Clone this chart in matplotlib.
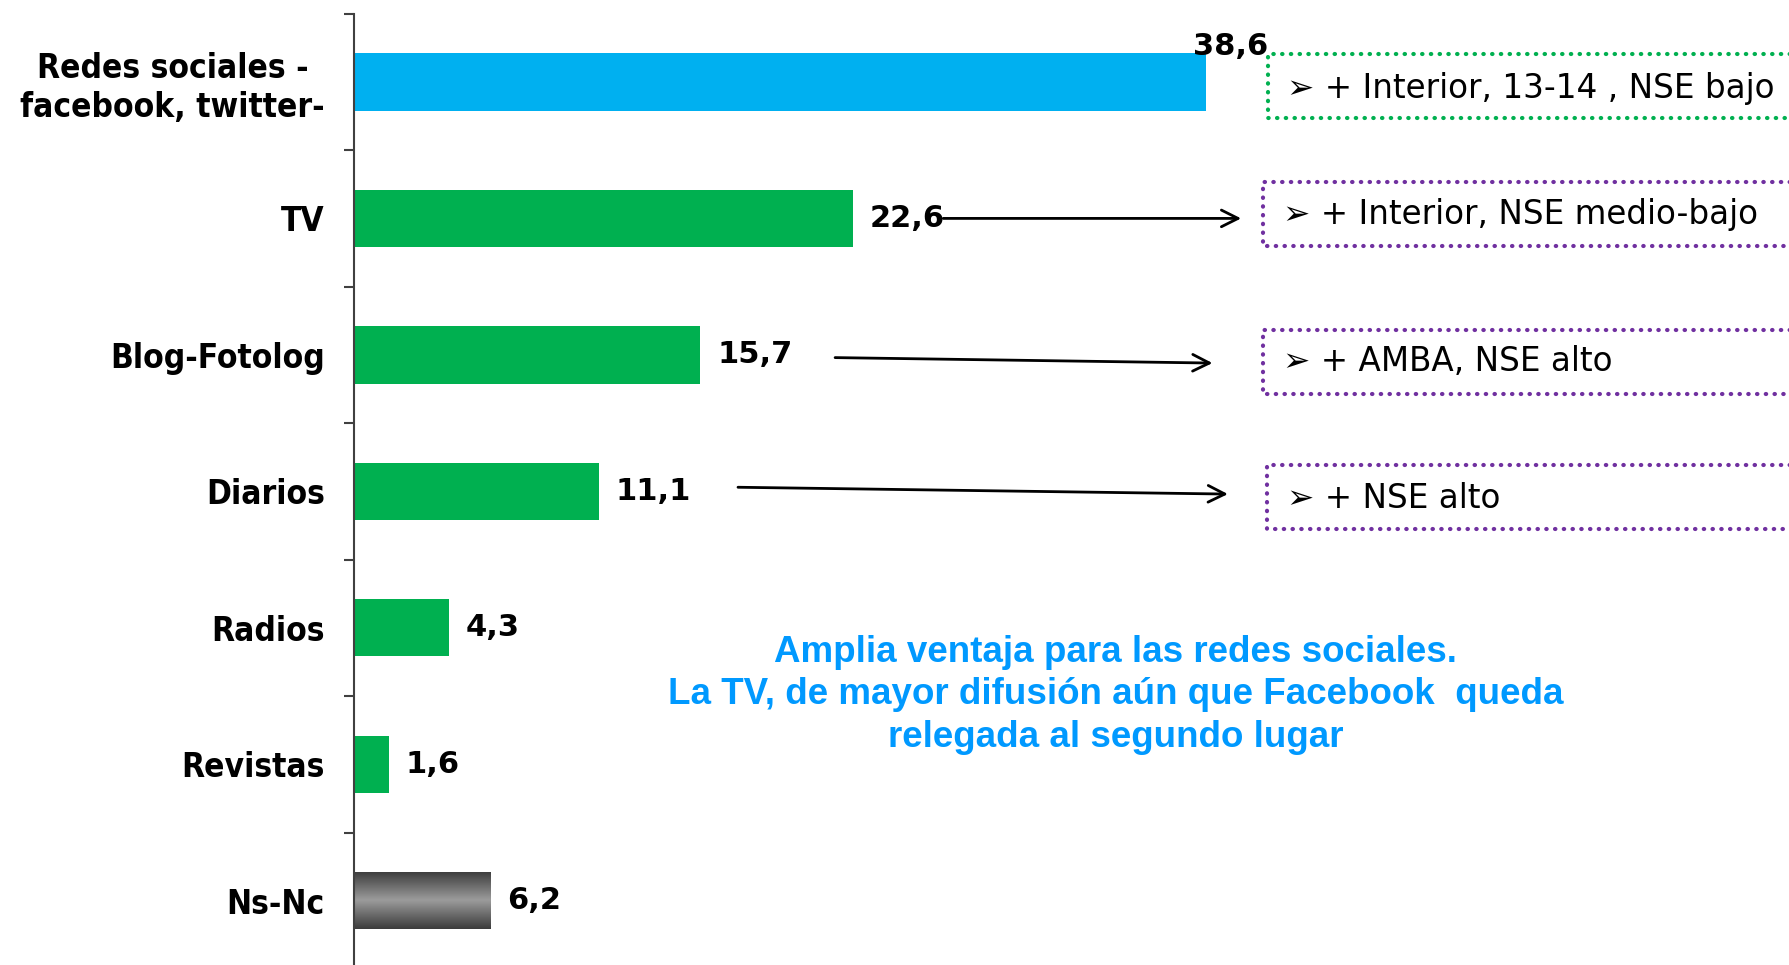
import numpy as np
import matplotlib
matplotlib.use('Agg')
import matplotlib.pyplot as plt

# data
categories = ['Redes sociales -\nfacebook, twitter-', 'TV', 'Blog-Fotolog', 'Diarios',
              'Radios', 'Revistas', 'Ns-Nc']
values = [38.6, 22.6, 15.7, 11.1, 4.3, 1.6, 6.2]
value_labels = ['38,6', '22,6', '15,7', '11,1', '4,3', '1,6', '6,2']
box_texts = ['\u27a2 + Interior, 13-14 , NSE bajo',
             '\u27a2 + Interior, NSE medio-bajo',
             '\u27a2 + AMBA, NSE alto',
             '\u27a2 + NSE alto']
note = ('Amplia ventaja para las redes sociales.\n'
        'La TV, de mayor difusión aún que Facebook  queda\n'
        'relegada al segundo lugar')

BLUE = '#00B0F0'
GREEN = '#00B050'
PURPLE = '#7030A0'
colors = [BLUE, GREEN, GREEN, GREEN, GREEN, GREEN, 'none']

fig = plt.figure(figsize=(17.9, 9.65), dpi=100)
ax = fig.add_axes([354 / 1790, 1 - 969 / 965, 1 - 354 / 1790, (969 - 13.7) / 965])

y = np.arange(len(categories))
bars = ax.barh(y, values, height=0.42, color=colors, zorder=2)

# gray gradient for Ns-Nc
gb = bars[-1]
grad = np.abs(np.linspace(-1, 1, 64))[:, None]
im = ax.imshow(grad, cmap=matplotlib.colors.LinearSegmentedColormap.from_list(
    'g', ['#9a9a9a', '#3c3c3c']), aspect='auto', zorder=2,
    extent=(0, values[-1], y[-1] + 0.21, y[-1] - 0.21))
im.set_clip_path(gb)
ax.set_xlim(0, 65.07)
ax.set_ylim(6.5, -0.5)

for s in ['top', 'right', 'bottom']:
    ax.spines[s].set_visible(False)
ax.spines['left'].set_color('#404040')
ax.spines['left'].set_linewidth(1.5)
ax.set_xticks([])
ax.set_yticks(y)
ax.set_yticklabels(categories, fontsize=24, fontweight='bold',
                   family='DejaVu Sans', fontstretch='condensed',
                   linespacing=1.2, multialignment='center')
ax.tick_params(axis='y', which='major', length=0, pad=21)
ax.set_yticks(np.arange(-0.5, 7, 1), minor=True)
ax.tick_params(axis='y', which='minor', length=7, width=1.5, color='#404040')

# value labels
for i, (v, t) in enumerate(zip(values, value_labels)):
    if i == 0:
        ax.text(v - 0.6, i - 0.26, t, fontsize=22, fontweight='bold',
                ha='left', va='center')
    else:
        ax.text(v + 0.75, i, t, fontsize=22, fontweight='bold',
                ha='left', va='center')

# arrows
arrows = [((26.7, 1.0), (40.2, 1.0)),
          ((21.8, 2.02), (38.9, 2.06)),
          ((17.4, 2.97), (39.6, 3.02))]
for (x0, y0), (x1, y1) in arrows:
    ax.annotate('', xy=(x1, y1), xytext=(x0, y0),
                arrowprops=dict(arrowstyle='->', lw=2, color='black',
                                mutation_scale=30, shrinkA=0, shrinkB=0))

# dotted boxes
boxes = [(41.4, -0.204, 0.264, GREEN), (41.2, 0.732, 1.2, PURPLE),
         (41.2, 1.82, 2.29, PURPLE), (41.37, 2.806, 3.275, PURPLE)]
text_y = [0.046, 0.974, 2.05, 3.05]
for (x0, y0, y1, c), ty, t in zip(boxes, text_y, box_texts):
    ax.plot([66, x0, x0, 66], [y0, y0, y1, y1], color=c, lw=3.0,
            dashes=(0.1, 2.0), dash_capstyle='round', clip_on=False, zorder=3)
    ax.text(x0 + 0.9, ty, t, fontsize=23.5, ha='left', va='center',
            family='DejaVu Sans')

ax.text(34.5, 4.49, note, fontsize=26.5, fontweight='bold', color='#0099FF',
        ha='center', va='center', linespacing=1.28,
        family=['Liberation Sans Narrow', 'Liberation Sans'])

fig.savefig('out.png', dpi=100)
